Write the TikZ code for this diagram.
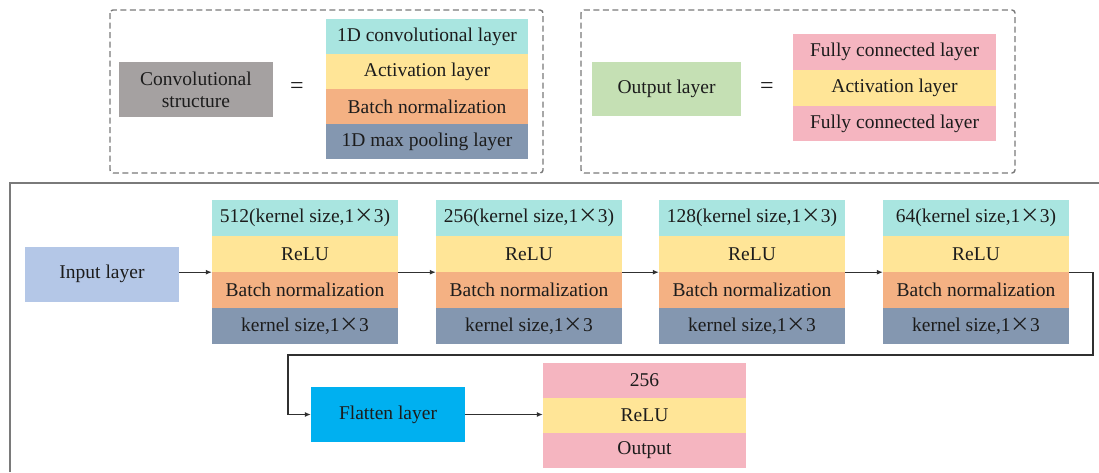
\documentclass[tikz,border=0pt]{standalone}
\usepackage{fontspec}
\setmainfont{Liberation Serif}
\newfontfamily\cjkfont{Noto Sans CJK SC}
\newcommand{\timessign}{{\cjkfont ×}}
\usetikzlibrary{arrows.meta}

\definecolor{cconv}{HTML}{A9E5E0}
\definecolor{cact}{HTML}{FFE597}
\definecolor{cbn}{HTML}{F4B183}
\definecolor{cpool}{HTML}{8497B0}
\definecolor{cfc}{HTML}{F5B5C0}
\definecolor{cstruct}{HTML}{A5A1A1}
\definecolor{cout}{HTML}{C5E0B4}
\definecolor{cin}{HTML}{B4C7E7}
\definecolor{cflat}{HTML}{00B0F0}
\definecolor{ctext}{HTML}{1C1C1C}
\definecolor{cframe}{HTML}{7A7A7A}
\definecolor{cline}{HTML}{303030}

\tikzset{
  txt/.style={font=\fontsize{19.5}{23}\selectfont, text=ctext},
  cell/.style={txt, draw=none, inner sep=0pt, minimum width=#1},
  convcell/.style={cell=186pt, minimum height=36pt},
  legcell/.style={cell=202pt, minimum height=35pt},
  outcell/.style={cell=203pt, minimum height=35.7pt},
  fincell/.style={cell=203pt, minimum height=35pt},
  block/.style={txt, inner sep=0pt, align=center},
  dashframe/.style={draw=cframe, line width=1.4pt, dash pattern=on 6pt off 3.5pt, rounded corners=3pt},
  frame/.style={draw=cframe, line width=1.4pt},
  arr/.style={draw=cline, line width=1.1pt, -{Latex[length=6pt,width=5pt]}},
  eq/.style={txt, font=\fontsize{24}{24}\selectfont}
}

\begin{document}
\begin{tikzpicture}[x=1pt, y=-1pt]
\useasboundingbox (0,0) rectangle (1099,472);

% ---- legend: convolutional structure ----
\draw[dashframe] (110,10) rectangle (543,173);
\node[block, fill=cstruct, minimum width=154pt, minimum height=55pt] (cs) at (196,89.5) {Convolutional\\[-1pt]structure};
\node[eq] (eq1) at (297,88) {=};
\node[legcell, fill=cconv] (l1) at (427,36.5) {1D convolutional layer};
\node[legcell, fill=cact]  (l2) at (427,71.5) {Activation layer};
\node[legcell, fill=cbn]   (l3) at (427,106.5) {Batch normalization};
\node[legcell, fill=cpool] (l4) at (427,141.5) {1D max pooling layer};

% ---- legend: output layer ----
\draw[dashframe] (581,10) rectangle (1015,173);
\node[block, fill=cout, minimum width=149pt, minimum height=54pt] (ol) at (666.5,89) {Output layer};
\node[eq] (eq2) at (767,88) {=};
\node[outcell, fill=cfc]  (f1) at (894.5,52) {Fully connected layer};
\node[outcell, fill=cact] (f2) at (894.5,87.7) {Activation layer};
\node[outcell, fill=cfc]  (f3) at (894.5,123.4) {Fully connected layer};

% ---- network frame ----
\draw[frame] (10,472) -- (10,183) -- (1099,183);

% ---- input ----
\node[block, fill=cin, minimum width=154pt, minimum height=55pt] (in) at (102,274) {Input layer};

% ---- convolutional structures ----
\foreach \n/\cx/\k in {1/305/512, 2/529/256, 3/752/128, 4/976/64}{
  \node[convcell, fill=cconv] (s\n a) at (\cx,218) {\k(kernel size,1\timessign3)};
  \node[convcell, fill=cact]  (s\n b) at (\cx,254) {ReLU};
  \node[convcell, fill=cbn]   (s\n c) at (\cx,290) {Batch normalization};
  \node[convcell, fill=cpool] (s\n d) at (\cx,326) {kernel size,1\timessign3};
}

\draw[arr] (in.east |- s1b.south) -- (s1b.south west);
\draw[arr] (s1b.south east) -- (s2b.south west);
\draw[arr] (s2b.south east) -- (s3b.south west);
\draw[arr] (s3b.south east) -- (s4b.south west);

% ---- flatten and final layers ----
\node[block, fill=cflat, minimum width=154pt, minimum height=55pt] (fl) at (388,414.5) {Flatten layer};
\node[fincell, fill=cfc]  (o1) at (644.5,380) {256};
\node[fincell, fill=cact] (o2) at (644.5,415) {ReLU};
\node[fincell, fill=cfc]  (o3) at (644.5,450) {Output};

\coordinate (r1) at (1093,355);
\coordinate (r2) at (288,355);
\draw[arr] (s4b.south east) -| (r1) -- (r2) |- (fl.west);
\draw[arr] (fl.east) -- (fl.east -| o2.west);
\end{tikzpicture}
\end{document}
